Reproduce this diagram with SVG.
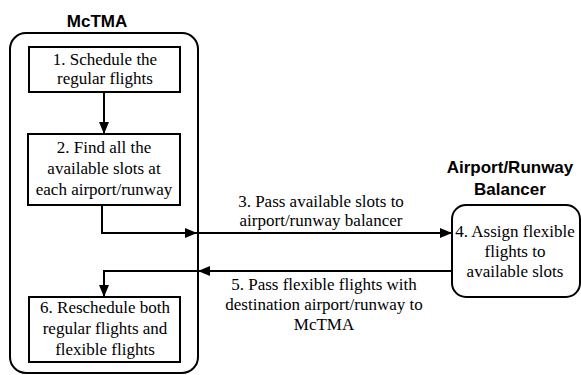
<svg xmlns="http://www.w3.org/2000/svg" width="581" height="375" viewBox="0 0 581 375">
<style>
.box{fill:#fff;stroke:#000;stroke-width:2}
.grp{fill:none;stroke:#000;stroke-width:2}
.t{font-family:'Liberation Serif',Tinos,'Times New Roman',Times,serif;font-size:17px;fill:#000;text-anchor:middle}
.h{font-family:'Liberation Sans',Arimo,Arial,Helvetica,sans-serif;font-size:17px;font-weight:bold;fill:#000;text-anchor:middle}
.c{fill:none;stroke:#000;stroke-width:2}
</style>
<defs>
<marker id="ah" viewBox="0 0 12 10" refX="12" refY="5" markerWidth="12" markerHeight="10" markerUnits="userSpaceOnUse" orient="auto">
<path d="M0,0 L12,5 L0,10 Z" fill="#000"/>
</marker>
</defs>
<g id="mctma">
<rect class="grp" x="10" y="33" width="188" height="340" rx="16"/>
<text class="h" x="97" y="27">McTMA</text>
</g>
<g id="balancer-group">
<text class="h" x="510" y="173">Airport/Runway</text>
<text class="h" x="510" y="195">Balancer</text>
</g>
<g id="step1">
<rect class="box" x="29" y="47" width="151" height="45"/>
<text class="t" x="105" y="65">1. Schedule the</text>
<text class="t" x="105" y="84">regular flights</text>
</g>
<g id="step2">
<rect class="box" x="28" y="134" width="152" height="71"/>
<text class="t" x="104" y="153">2. Find all the</text>
<text class="t" x="104" y="174">available slots at</text>
<text class="t" x="104" y="195">each airport/runway</text>
</g>
<g id="step4">
<rect class="box" x="452" y="205" width="128" height="92" rx="14"/>
<text class="t" x="515" y="237">4. Assign flexible</text>
<text class="t" x="515" y="257">flights to</text>
<text class="t" x="515" y="277">available slots</text>
</g>
<g id="step6">
<rect class="box" x="29" y="297" width="151" height="65"/>
<text class="t" x="105" y="313">6. Reschedule both</text>
<text class="t" x="105" y="334">regular flights and</text>
<text class="t" x="105" y="355">flexible flights</text>
</g>
<g id="connectors">
<path class="c" d="M104,92 V134" marker-end="url(#ah)"/>
<path class="c" d="M102,205 V233 H197" marker-end="url(#ah)"/>
<path class="c" d="M198,233 H452" marker-end="url(#ah)"/>
<path class="c" d="M452,271 H198" marker-end="url(#ah)"/>
<path class="c" d="M198,271 H104 V297" marker-end="url(#ah)"/>
<text class="t" x="321" y="207">3. Pass available slots to</text>
<text class="t" x="321" y="226">airport/runway balancer</text>
<text class="t" x="324" y="290">5. Pass flexible flights with</text>
<text class="t" x="324" y="310">destination airport/runway to</text>
<text class="t" x="324" y="330">McTMA</text>
</g>
</svg>
